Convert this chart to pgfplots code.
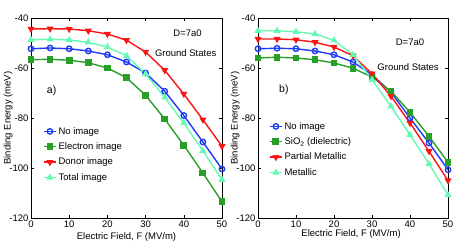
\documentclass[border=0pt]{standalone}
\usepackage{pgfplots}
\pgfplotsset{compat=1.18}
\usepackage{fontspec}
\setmainfont{Liberation Sans}
\definecolor{cblue}{RGB}{30,60,245}
\definecolor{cgreen}{RGB}{40,160,40}
\definecolor{cred}{RGB}{250,20,20}
\definecolor{ccyan}{RGB}{100,250,180}
\begin{document}
\begin{tikzpicture}[font=\fontsize{9.5}{11}\selectfont]
\pgfplotsset{
  myax/.style={
    scale only axis, height=200pt,
    xmin=0, xmax=50, ymin=-120, ymax=-40,
    xtick={0,10,...,50}, ytick={-120,-100,...,-40},
    tick align=inside, xtick pos=both, ytick pos=both,
    major tick length=3pt,
    /pgf/number format/assume math mode=true,
    axis line style={line width=0.6pt},
    tick style={line width=0.5pt, black},
    yticklabel style={xshift=1pt},
    xticklabel style={yshift=1pt},
    xlabel={Electric Field, F (MV/m)},
    ylabel={Binding Energy (meV)},
    ylabel style={at={(axis description cs:-0.12,0.5)}, anchor=center, rotate=0},
    legend cell align=left,
    legend style={draw=none, fill=none, row sep=3pt, inner sep=0pt},
    legend image code/.code={\draw[mark repeat=2,mark phase=2] plot coordinates {(0cm,0cm) (0.21cm,0cm) (0.42cm,0cm)};},
    every axis plot/.append style={line width=1.4pt, mark size=2.7pt, mark options={solid}},
  }
}
\path[use as bounding box] (0,0) rectangle (471pt,249pt);
\begin{axis}[myax, at={(31pt,31pt)}, anchor=south west, width=191pt,
  xlabel style={at={(axis description cs:0.5,-0.095)}, anchor=center},
  legend style={at={(axis description cs:0.063,0.465)}, anchor=north west}]
\addplot[color=cblue, mark=o] coordinates {(0,-52.3)(5,-52)(10,-52.3)(15,-53.2)(20,-54.7)(25,-57.6)(30,-62)(35,-69.3)(40,-79)(45,-89.6)(50,-100.4)};
\addlegendentry{No image}
\addplot[color=cgreen, mark=square*] coordinates {(0,-56.7)(5,-56.5)(10,-56.9)(15,-57.9)(20,-60)(25,-63.9)(30,-70.9)(35,-80.4)(40,-90.9)(45,-102)(50,-113.5)};
\addlegendentry{Electron image}
\addplot[color=cred, mark=triangle*, mark options={rotate=180}] coordinates {(0,-44.4)(5,-44.3)(10,-44.4)(15,-45.1)(20,-46.4)(25,-48.9)(30,-53.6)(35,-60.9)(40,-70.4)(45,-80.7)(50,-91.3)};
\addlegendentry{Donor image}
\addplot[color=ccyan, mark=triangle*] coordinates {(0,-48.7)(5,-48.5)(10,-48.8)(15,-49.7)(20,-51.6)(25,-55.1)(30,-62.4)(35,-71.7)(40,-82)(45,-93.1)(50,-104.7)};
\addlegendentry{Total image}
\node at (axis cs:41,-46) {D=7a0};
\node at (axis cs:40.5,-54) {Ground States};
\node[font=\fontsize{10.5}{12}\selectfont] at (axis cs:5.4,-69.2) {a)};
\end{axis}
\begin{axis}[myax, at={(258pt,31pt)}, anchor=south west, width=190pt,
  xlabel style={at={(axis description cs:0.49,-0.082)}, anchor=center},
  legend style={at={(axis description cs:0.058,0.49)}, anchor=north west}]
\addplot[color=cblue, mark=o] coordinates {(0,-52.3)(5,-52.1)(10,-52.3)(15,-53.2)(20,-54.7)(25,-57.6)(30,-62.7)(35,-69.7)(40,-80)(45,-90)(50,-100.7)};
\addlegendentry{No image}
\addplot[color=cgreen, mark=square*] coordinates {(0,-56)(5,-55.7)(10,-56)(15,-56.7)(20,-58)(25,-60.1)(30,-63.6)(35,-69.3)(40,-77.7)(45,-87.3)(50,-97.7)};
\addlegendentry{SiO\textsubscript{2} (dielectric)}
\addplot[color=cred, mark=triangle*, mark options={rotate=180}] coordinates {(0,-48.4)(5,-48.4)(10,-48.7)(15,-49.7)(20,-51.6)(25,-55.1)(30,-62.3)(35,-71.3)(40,-82)(45,-93.3)(50,-105)};
\addlegendentry{Partial Metallic}
\addplot[color=ccyan, mark=triangle*] coordinates {(0,-45.1)(5,-45.1)(10,-45.5)(15,-46.4)(20,-48.9)(25,-54.7)(30,-64.7)(35,-75.3)(40,-86.7)(45,-98.3)(50,-110.8)};
\addlegendentry{Metallic}
\node at (axis cs:40,-49.6) {D=7a0};
\node at (axis cs:39.5,-59.6) {Ground States};
\node[font=\fontsize{10.5}{12}\selectfont] at (axis cs:6.8,-68.8) {b)};
\end{axis}
\end{tikzpicture}
\end{document}
